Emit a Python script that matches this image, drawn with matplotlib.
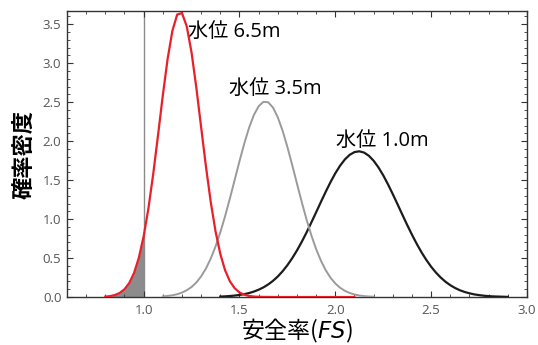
import matplotlib
matplotlib.use("Agg")
import matplotlib.pyplot as plt
from matplotlib.ticker import MultipleLocator
import numpy as np

plt.rcParams['font.family'] = ['Noto Sans CJK JP', 'DejaVu Sans']

# Safety factor (FS) grid values and densities
fs_red = [0.800, 0.825, 0.850, 0.875, 0.900, 0.925, 0.950, 0.975, 1.000, 1.025,
          1.050, 1.075, 1.100, 1.125, 1.150, 1.175, 1.200, 1.225, 1.250, 1.275,
          1.300, 1.325, 1.350, 1.375, 1.400, 1.425, 1.450, 1.475, 1.500, 1.525,
          1.550, 1.575, 1.600, 1.650, 1.700, 1.800, 1.900, 2.000, 2.100]
pdf_red = [0.005, 0.012, 0.026, 0.052, 0.100, 0.180, 0.310, 0.504, 0.779, 1.139,
           1.580, 2.076, 2.587, 3.054, 3.417, 3.625, 3.644, 3.473, 3.137, 2.685,
           2.179, 1.676, 1.221, 0.844, 0.553, 0.343, 0.202, 0.113, 0.059, 0.030,
           0.014, 0.006, 0.003, 0.001, 0.000, 0.000, 0.000, 0.000, 0.000]

fs_gray = [1.100, 1.125, 1.150, 1.175, 1.200, 1.225, 1.250, 1.275, 1.300, 1.325,
           1.350, 1.375, 1.400, 1.425, 1.450, 1.475, 1.500, 1.525, 1.550, 1.575,
           1.600, 1.625, 1.650, 1.675, 1.700, 1.725, 1.750, 1.775, 1.800, 1.825,
           1.850, 1.875, 1.900, 1.925, 1.950, 1.975, 2.000, 2.025, 2.050, 2.075,
           2.100, 2.125, 2.150, 2.175, 2.200]
pdf_gray = [0.008, 0.014, 0.023, 0.036, 0.057, 0.087, 0.129, 0.187, 0.265, 0.366,
            0.493, 0.648, 0.831, 1.038, 1.265, 1.503, 1.742, 1.970, 2.172, 2.335,
            2.449, 2.505, 2.499, 2.431, 2.306, 2.134, 1.926, 1.695, 1.455, 1.218,
            0.994, 0.792, 0.615, 0.466, 0.344, 0.248, 0.174, 0.119, 0.080, 0.052,
            0.033, 0.020, 0.012, 0.007, 0.004]

fs_black = [1.400, 1.425, 1.450, 1.475, 1.500, 1.525, 1.550, 1.575, 1.600, 1.625,
            1.650, 1.675, 1.700, 1.725, 1.750, 1.775, 1.800, 1.825, 1.850, 1.875,
            1.900, 1.925, 1.950, 1.975, 2.000, 2.025, 2.050, 2.075, 2.100, 2.125,
            2.150, 2.175, 2.200, 2.225, 2.250, 2.275, 2.300, 2.325, 2.350, 2.375,
            2.400, 2.425, 2.450, 2.475, 2.500, 2.525, 2.550, 2.575, 2.600, 2.625,
            2.650, 2.675, 2.700, 2.725, 2.750, 2.775, 2.800, 2.825, 2.850, 2.875,
            2.900]
pdf_black = [0.006, 0.009, 0.013, 0.019, 0.027, 0.037, 0.051, 0.070, 0.094, 0.124,
             0.162, 0.208, 0.264, 0.331, 0.409, 0.498, 0.598, 0.709, 0.829, 0.957,
             1.088, 1.221, 1.351, 1.475, 1.588, 1.686, 1.766, 1.825, 1.860, 1.870,
             1.854, 1.813, 1.749, 1.664, 1.562, 1.446, 1.320, 1.189, 1.056, 0.925,
             0.800, 0.682, 0.573, 0.476, 0.389, 0.314, 0.250, 0.196, 0.152, 0.116,
             0.087, 0.065, 0.048, 0.034, 0.025, 0.017, 0.012, 0.008, 0.006, 0.004,
             0.002]

labels = ["水位 6.5m", "水位 3.5m", "水位 1.0m"]
label_x = [1.23, 1.445, 2.005]
label_y = [3.40, 2.67, 2.00]
fs_limit = 1.0

fig = plt.figure(figsize=(5.38, 3.45), dpi=100)
ax = fig.add_axes([0.1245, 0.139, 0.855, 0.829])

# shaded failure region
xr = np.array(fs_red)
yr = np.array(pdf_red)
m = xr <= fs_limit + 1e-9
ax.fill_between(xr[m], 0, yr[m], color='#8c8c8c', lw=0, zorder=1)
ax.axvline(fs_limit, color='#8a8a8a', lw=1.0, zorder=1)

ax.plot(fs_black, pdf_black, color='#1c1c1c', lw=1.6, zorder=3)
ax.plot(fs_gray, pdf_gray, color='#9a9a9a', lw=1.4, zorder=3)
ax.plot(fs_red, pdf_red, color='#e8202a', lw=1.6, zorder=4)

for t, x, y in zip(labels, label_x, label_y):
    ax.text(x, y, t, fontsize=14.5, ha='left', va='center', color='black',
            family=['Open Sans', 'Noto Sans CJK JP', 'DejaVu Sans'])

ax.set_xlim(0.6, 3.0)
ax.set_ylim(0, 3.67)
ax.xaxis.set_major_locator(MultipleLocator(0.5))
ax.xaxis.set_minor_locator(MultipleLocator(0.1))
ax.yaxis.set_major_locator(MultipleLocator(0.5))
ax.yaxis.set_minor_locator(MultipleLocator(0.1))
ax.tick_params(which='both', direction='in', top=True, right=True,
               color='#333333', labelcolor='#555555', labelsize=9.5)
ax.tick_params(which='major', length=4.5, width=0.8)
ax.tick_params(which='minor', length=2.5, width=0.6)
ax.tick_params(axis='x', pad=5)
ax.tick_params(axis='y', pad=4)
for lab in ax.get_xticklabels() + ax.get_yticklabels():
    lab.set_family(['Open Sans', 'DejaVu Sans'])
for s in ax.spines.values():
    s.set_color('#333333')
    s.set_linewidth(1.0)

ax.set_ylabel("確率密度", fontsize=16, fontweight='bold', labelpad=5)
ax.set_xlabel("安全率($\\it{FS}$)", fontsize=16.5, labelpad=0)

fig.savefig("out.png", dpi=100)
